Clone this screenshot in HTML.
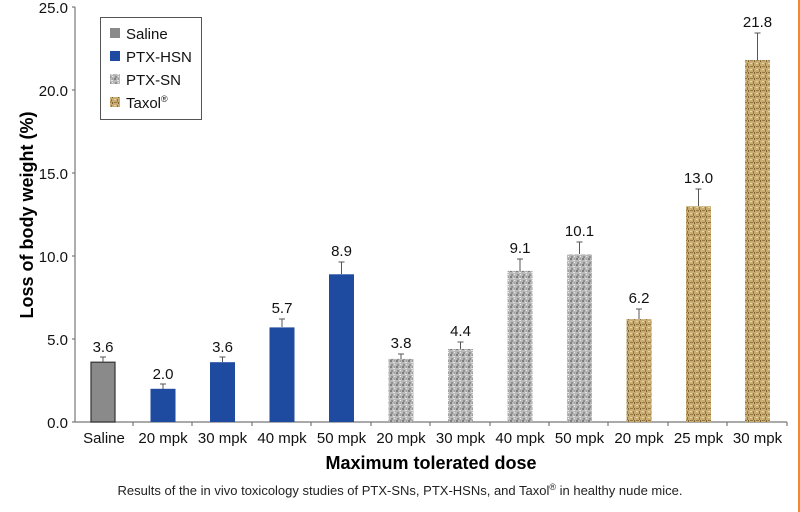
<!DOCTYPE html>
<html><head><style>
body{margin:0;background:#fff;}
svg{display:block;font-family:"Liberation Sans",Arial,sans-serif;}
</style></head><body>
<svg width="800" height="512" viewBox="0 0 800 512" xmlns="http://www.w3.org/2000/svg">
<defs>
<pattern id="sn" width="6" height="6" patternUnits="userSpaceOnUse">
<rect width="6" height="6" fill="#b8b8b8"/>
<rect x="0" y="0" width="2" height="2" fill="#7e7e7e"/>
<rect x="3" y="2" width="2" height="1" fill="#e4e4e4"/>
<rect x="1" y="4" width="2" height="2" fill="#929292"/>
<rect x="4" y="4" width="1" height="1" fill="#eee"/>
<rect x="4" y="0" width="1" height="2" fill="#a0a0a0"/>
</pattern>
<pattern id="tx" width="6" height="6" patternUnits="userSpaceOnUse">
<rect width="6" height="6" fill="#c8ac72"/>
<rect x="0" y="0" width="3" height="1" fill="#977840"/>
<rect x="3" y="3" width="1" height="3" fill="#977840"/>
<rect x="0" y="3" width="2" height="1" fill="#e8d6a8"/>
<rect x="4" y="0" width="1" height="2" fill="#7e6232"/>
</pattern>
</defs>
<line x1="799" y1="0" x2="799" y2="512" stroke="#f08a30" stroke-width="2"/>
<g stroke="#777" stroke-width="1.2" fill="none">
<line x1="75" y1="7" x2="75" y2="422"/>
<line x1="75" y1="422" x2="787" y2="422"/>
<line x1="72" y1="7" x2="75" y2="7"/><line x1="72" y1="90" x2="75" y2="90"/><line x1="72" y1="173" x2="75" y2="173"/><line x1="72" y1="256" x2="75" y2="256"/><line x1="72" y1="339" x2="75" y2="339"/><line x1="72" y1="422" x2="75" y2="422"/>
<line x1="133" y1="422" x2="133" y2="426"/><line x1="192" y1="422" x2="192" y2="426"/><line x1="252" y1="422" x2="252" y2="426"/><line x1="311" y1="422" x2="311" y2="426"/><line x1="371" y1="422" x2="371" y2="426"/><line x1="430" y1="422" x2="430" y2="426"/><line x1="490" y1="422" x2="490" y2="426"/><line x1="549" y1="422" x2="549" y2="426"/><line x1="608" y1="422" x2="608" y2="426"/><line x1="668" y1="422" x2="668" y2="426"/><line x1="727" y1="422" x2="727" y2="426"/><line x1="787" y1="422" x2="787" y2="426"/>
</g>
<g font-size="15" fill="#111" text-anchor="end">
<text x="68" y="13">25.0</text><text x="68" y="96">20.0</text><text x="68" y="179">15.0</text><text x="68" y="262">10.0</text><text x="68" y="345">5.0</text><text x="68" y="428">0.0</text>
</g>
<rect x="91" y="362.2" width="24" height="59.8" fill="#8a8a8a" stroke="#333" stroke-width="1.2"/>
<rect x="150.5" y="388.8" width="25" height="33.2" fill="#1e4aa0"/>
<rect x="210" y="362.2" width="25" height="59.8" fill="#1e4aa0"/>
<rect x="269.5" y="327.4" width="25" height="94.6" fill="#1e4aa0"/>
<rect x="329" y="274.3" width="25" height="147.7" fill="#1e4aa0"/>
<rect x="388.5" y="358.9" width="25" height="63.1" fill="url(#sn)"/>
<rect x="448" y="349" width="25" height="73" fill="url(#sn)"/>
<rect x="507.5" y="270.9" width="25" height="151.1" fill="url(#sn)"/>
<rect x="567" y="254.3" width="25" height="167.7" fill="url(#sn)"/>
<rect x="626.5" y="319.1" width="25" height="102.9" fill="url(#tx)"/>
<rect x="686" y="206.2" width="25" height="215.8" fill="url(#tx)"/>
<rect x="745" y="60.1" width="25" height="361.9" fill="url(#tx)"/>
<g stroke="#555" stroke-width="1">
<path d="M103 362V357M100 357H106"/>
<path d="M163 389V384M160 384H166"/>
<path d="M222.5 362V357M219.5 357H225.5"/>
<path d="M282 327V319M279 319H285"/>
<path d="M341.5 274V262M338.5 262H344.5"/>
<path d="M401 359V354M398 354H404"/>
<path d="M460.5 349V342M457.5 342H463.5"/>
<path d="M520 271V259M517 259H523"/>
<path d="M579.5 254V242M576.5 242H582.5"/>
<path d="M639 319V309M636 309H642"/>
<path d="M698.5 206V189M695.5 189H701.5"/>
<path d="M757.5 60V33M754.5 33H760.5"/>
</g>
<g font-size="15" fill="#111" text-anchor="middle">
<text x="103" y="352">3.6</text><text x="163" y="379">2.0</text><text x="222.5" y="352">3.6</text><text x="282" y="313">5.7</text><text x="341.5" y="256">8.9</text><text x="401" y="348">3.8</text><text x="460.5" y="336">4.4</text><text x="520" y="253">9.1</text><text x="579.5" y="236">10.1</text><text x="639" y="303">6.2</text><text x="698.5" y="183">13.0</text><text x="757.5" y="27">21.8</text>
</g>
<g font-size="15" fill="#111" text-anchor="middle">
<text x="104" y="443">Saline</text><text x="163" y="443">20 mpk</text><text x="222.5" y="443">30 mpk</text><text x="282" y="443">40 mpk</text><text x="341.5" y="443">50 mpk</text><text x="401" y="443">20 mpk</text><text x="460.5" y="443">30 mpk</text><text x="520" y="443">40 mpk</text><text x="579.5" y="443">50 mpk</text><text x="639" y="443">20 mpk</text><text x="698.5" y="443">25 mpk</text><text x="757.5" y="443">30 mpk</text>
</g>
<text x="431" y="469" font-size="18" font-weight="bold" text-anchor="middle" fill="#000">Maximum tolerated dose</text>
<text transform="translate(33,215) rotate(-90)" font-size="18" font-weight="bold" text-anchor="middle" fill="#000">Loss of body weight (%)</text>
<text x="400" y="495" font-size="13" text-anchor="middle" fill="#222">Results of the in vivo toxicology studies of PTX-SNs, PTX-HSNs, and Taxol<tspan font-size="9" dy="-5">®</tspan><tspan dy="5"> in healthy nude mice.</tspan></text>
<rect x="100.5" y="17.5" width="101" height="102" fill="#fff" stroke="#555" stroke-width="1"/>
<rect x="110" y="28" width="10" height="10" fill="#8a8a8a"/>
<rect x="110" y="51" width="10" height="10" fill="#1e4aa0"/>
<rect x="110" y="74" width="10" height="10" fill="url(#sn)"/>
<rect x="110" y="97" width="10" height="10" fill="url(#tx)"/>
<g font-size="15" fill="#111">
<text x="126" y="39">Saline</text><text x="126" y="62">PTX-HSN</text><text x="126" y="85">PTX-SN</text><text x="126" y="108">Taxol<tspan font-size="9" dy="-6">®</tspan></text>
</g>
</svg>
</body></html>
